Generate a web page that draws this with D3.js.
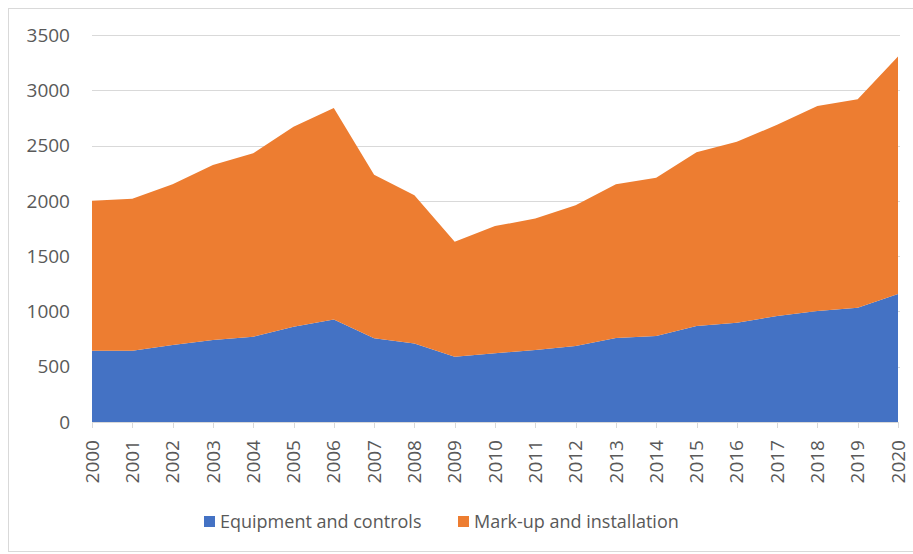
<!DOCTYPE html>
<html>
<head>
<meta charset="utf-8">
<script src="https://cdn.jsdelivr.net/npm/d3@7"></script>
<style>
  body { margin: 0; background: #fff; }
  text { font-family: "Open Sans", "Noto Sans", sans-serif; fill: #595959; }
</style>
</head>
<body>
<svg id="chart" width="913" height="554"></svg>
<script>
const years = ['2000', '2001', '2002', '2003', '2004', '2005', '2006', '2007', '2008', '2009', '2010',
    '2011', '2012', '2013', '2014', '2015', '2016', '2017', '2018', '2019', '2020'];
const equipment = [645, 645, 696, 741, 771, 862, 928, 757, 711, 591, 621,
    651, 687, 760, 778, 868, 898, 958, 1004, 1033, 1157];
const markup = [1355, 1375, 1455, 1584, 1659, 1808, 1912, 1478, 1339, 1039, 1151,
    1189, 1273, 1390, 1432, 1572, 1636, 1730, 1853, 1885, 2148];
const seriesNames = ['Equipment and controls', 'Mark-up and installation'];
const seriesColors = ['#4472C4', '#ED7D31'];
const yTicks = [0, 500, 1000, 1500, 2000, 2500, 3000, 3500];

const svg = d3.select('svg#chart'),
    plotLeft = 92,
    plotRight = 898,
    plotTop = 35,
    plotBottom = 422,
    gridColor = '#d9d9d9',
    tickFont = 19,
    legendFont = 18;

// outer chart frame
svg.append('rect')
    .attr('x', 8.5).attr('y', 8.5)
    .attr('width', 920).attr('height', 543)
    .attr('fill', 'none')
    .attr('stroke', '#d9d9d9');

const x = d3.scalePoint().domain(years).range([plotLeft, plotRight]);
const y = d3.scaleLinear().domain([0, 3500]).range([plotBottom, plotTop]);

const rows = years.map((yr, i) => ({ year: yr, equipment: equipment[i], markup: markup[i] }));
const stack = d3.stack().keys(['equipment', 'markup'])(rows);

// gridlines
svg.append('g')
    .selectAll('line')
    .data(yTicks.slice(1))
    .join('line')
    .attr('x1', plotLeft).attr('x2', plotRight + 2)
    .attr('y1', d => Math.round(y(d)) + 0.5)
    .attr('y2', d => Math.round(y(d)) + 0.5)
    .attr('stroke', gridColor);

// areas
const area = d3.area()
    .x(d => x(d.data.year))
    .y0(d => y(d[0]))
    .y1(d => y(d[1]));

svg.append('g')
    .selectAll('path')
    .data(stack)
    .join('path')
    .attr('d', area)
    .attr('fill', (d, i) => seriesColors[i]);

// y axis labels
svg.append('g')
    .selectAll('text')
    .data(yTicks)
    .join('text')
    .attr('x', 70)
    .attr('y', d => y(d))
    .attr('dy', '0.35em')
    .attr('text-anchor', 'end')
    .attr('font-size', tickFont)
    .text(d => d);

// x axis line and ticks
svg.append('line')
    .attr('x1', plotLeft).attr('x2', plotRight)
    .attr('y1', plotBottom + 0.5).attr('y2', plotBottom + 0.5)
    .attr('stroke', gridColor);

svg.append('g')
    .selectAll('line')
    .data(years)
    .join('line')
    .attr('x1', d => Math.round(x(d)) + 0.5)
    .attr('x2', d => Math.round(x(d)) + 0.5)
    .attr('y1', plotBottom).attr('y2', plotBottom + 6)
    .attr('stroke', gridColor);

svg.append('g')
    .selectAll('text')
    .data(years)
    .join('text')
    .attr('transform', d => `translate(${x(d)}, ${plotBottom + 18}) rotate(-90)`)
    .attr('dy', '0.35em')
    .attr('text-anchor', 'end')
    .attr('font-size', tickFont)
    .text(d => d);

// legend
const legendItems = [{ x: 204, name: seriesNames[0], color: seriesColors[0] },
    { x: 458, name: seriesNames[1], color: seriesColors[1] }];
const legend = svg.append('g')
    .selectAll('g')
    .data(legendItems)
    .join('g')
    .attr('transform', d => `translate(${d.x}, 522)`);
legend.append('rect')
    .attr('x', 0).attr('y', -6)
    .attr('width', 11).attr('height', 11)
    .attr('fill', d => d.color);
legend.append('text')
    .attr('x', 16)
    .attr('dy', '0.35em')
    .attr('font-size', legendFont)
    .text(d => d.name);
</script>
</body>
</html>
